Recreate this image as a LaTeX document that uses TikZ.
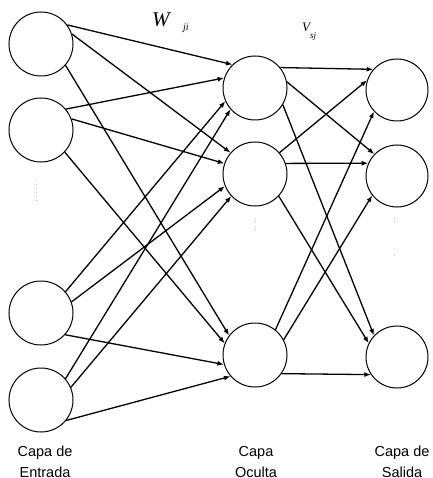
\documentclass[tikz,border=0pt]{standalone}
\usepackage{fontspec}
\setmainfont{Liberation Sans}
\newfontfamily\serifit{Liberation Serif}
\usetikzlibrary{arrows.meta}
\begin{document}
\begin{tikzpicture}[x=1pt,y=-1pt,
  neuron/.style={circle,draw=black,line width=1pt,minimum size=64pt,inner sep=0pt},
  oneuron/.style={circle,draw=black,line width=1pt,minimum size=62pt,inner sep=0pt},
  conn/.style={line width=1.3pt,-{Latex[length=6.5pt,width=5pt]}},
  layerlabel/.style={align=center,inner sep=0pt,anchor=north,font=\fontsize{14.5}{21}\selectfont},
  vdots/.style={draw=black!25,line width=1pt,dash pattern=on 1pt off 3pt}]
\useasboundingbox (0,0) rectangle (432,478);
% input layer
\node[neuron] (i1) at (41,44) {};
\node[neuron] (i2) at (41,130) {};
\node[neuron] (i3) at (41,313) {};
\node[neuron] (i4) at (41,400) {};
% hidden layer
\node[neuron] (h1) at (255,88) {};
\node[neuron] (h2) at (255,174) {};
\node[neuron] (h3) at (255,355) {};
% output layer
\node[oneuron] (o1) at (397,90) {};
\node[oneuron] (o2) at (397,176) {};
\node[oneuron] (o3) at (397,357) {};
% input -> hidden
\draw[conn] (i1.36) -- (h1.134);
\draw[conn] (i1.18) -- (h2.139);
\draw[conn] (i1.-41) -- (h3.143);
\draw[conn] (i2.40) -- (h1.162);
\draw[conn] (i2.20) -- (h2.161);
\draw[conn] (i2.-43) -- (h3.159);
\draw[conn] (i3.41) -- (h1.204);
\draw[conn] (i3.20) -- (h2.202);
\draw[conn] (i3.-42) -- (h3.197);
\draw[conn] (i4.41) -- (h1.221);
\draw[conn] (i4.23) -- (h2.223);
\draw[conn] (i4.-39) -- (h3.221);
% hidden -> output
\draw[conn] (h1.39) -- (o1.139);
\draw[conn] (h1.11) -- (o2.136);
\draw[conn] (h1.-31) -- (o3.137);
\draw[conn] (h2.41) -- (o1.162);
\draw[conn] (h2.19) -- (o2.156);
\draw[conn] (h2.-43) -- (o3.154);
\draw[conn] (h3.51) -- (o1.223);
\draw[conn] (h3.28) -- (o2.218);
\draw[conn] (h3.-35) -- (o3.214);
% faint dots
\draw[vdots] (36,180) -- (36,201);
\draw[vdots] (255,218) -- (255,233);
\draw[vdots] (394,218) -- (394,226);
\draw[vdots] (394,255) -- (394,256);
% weight labels
\node[inner sep=0pt,anchor=base west] (w) at (152,27) {\serifit\itshape\fontsize{21}{21}\selectfont W};
\node[inner sep=0pt,anchor=base west] (wji) at (183,31) {\serifit\itshape\fontsize{10}{10}\selectfont ji};
\node[inner sep=0pt,anchor=base west] (v) at (302,32) {\serifit\itshape\fontsize{13}{13}\selectfont V};
\node[inner sep=0pt,anchor=base west] (vsj) at (310,39) {\serifit\itshape\fontsize{9}{9}\selectfont sj};
% layer labels
\node[layerlabel] (lin) at (45,446) {Capa de\\Entrada};
\node[layerlabel] (lhid) at (256,446) {Capa\\Oculta};
\node[layerlabel] (lout) at (402,446) {Capa de\\Salida};
\end{tikzpicture}
\end{document}
